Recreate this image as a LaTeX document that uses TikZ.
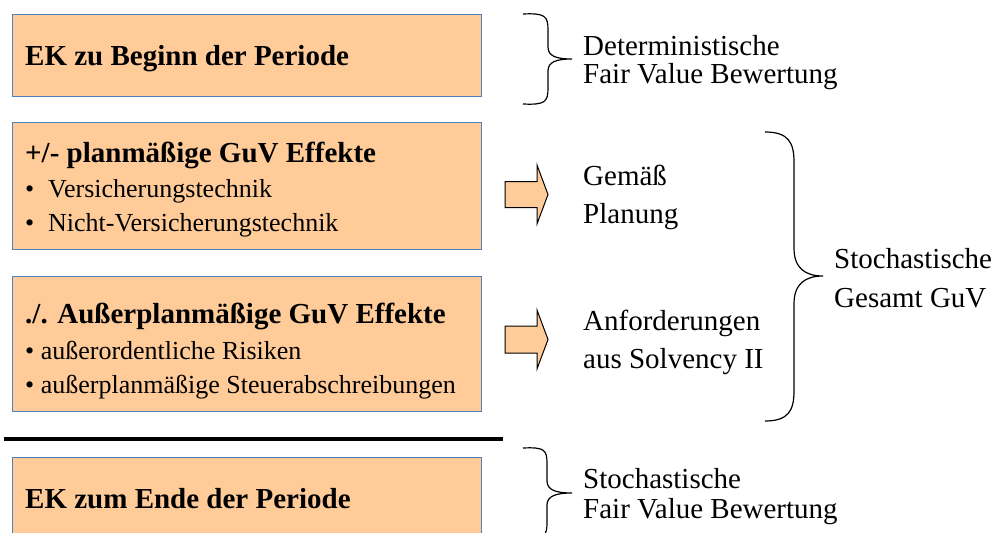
\documentclass[tikz,border=0pt]{standalone}
\usepackage{fontspec}
\setmainfont{Liberation Serif}
\definecolor{peach}{RGB}{255,204,153}
\definecolor{boxblue}{RGB}{79,129,189}
\tikzset{
  ekbox/.style={draw=boxblue, line width=1.3pt, fill=peach, anchor=north west, inner sep=0pt, minimum width=469pt},
  titletxt/.style={anchor=base west, inner sep=0pt, font=\fontsize{29}{32}\selectfont\bfseries},
  itemtxt/.style={anchor=base west, inner sep=0pt, font=\fontsize{26}{30}\selectfont},
  sidetxt/.style={anchor=base west, inner sep=0pt, font=\fontsize{29}{30}\selectfont},
  bracepath/.style={draw=black, line width=1.2pt},
  blockarrow/.style={draw=black, line width=1pt, fill=peach, line join=miter}
}
\begin{document}
\begin{tikzpicture}[x=1pt,y=-1pt]
\useasboundingbox (0,0) rectangle (997,533);
% boxes
\node[ekbox, minimum height=82pt] (b1) at (12,14) {};
\node[ekbox, minimum height=127pt] (b2) at (12,122) {};
\node[ekbox, minimum height=135pt] (b3) at (12,276) {};
\node[ekbox, minimum height=90pt] (b4) at (12,457) {};
% box texts
\node[titletxt] (t1) at (25,65) {EK zu Beginn der Periode};
\node[titletxt] (t2) at (25,162) {+/- planmäßige GuV Effekte};
\node[itemtxt] (i21d) at (25,197) {•};
\node[itemtxt] (i21) at (48,197) {Versicherungstechnik};
\node[itemtxt] (i22d) at (25,231) {•};
\node[itemtxt] (i22) at (48,231) {Nicht-Versicherungstechnik};
\node[titletxt] (t3) at (25,323) {./. Außerplanmäßige GuV Effekte};
\node[itemtxt] (i31) at (25,359) {• außerordentliche Risiken};
\node[itemtxt] (i32) at (25,393) {• außerplanmäßige Steuerabschreibungen};
\node[titletxt] (t4) at (25,508) {EK zum Ende der Periode};
% separating line
\draw[line width=4.5pt] (4,439) -- (503,439);
% block arrows
\draw[blockarrow] (505,181.5) -- (537,181.5) -- (537,165) -- (548,194.5) -- (537,224) -- (537,207.5) -- (505,207.5) -- cycle;
\draw[blockarrow] (505,326) -- (537,326) -- (537,310) -- (548,339.5) -- (537,369) -- (537,353) -- (505,353) -- cycle;
% brace 1
\draw[bracepath] (523,14) .. controls (545,13) and (548,16) .. (548,30)
  -- (548,47) .. controls (548,56) and (556,59) .. (572,59)
  .. controls (556,59) and (548,62) .. (548,71)
  -- (548,88) .. controls (548,102) and (545,105) .. (523,104);
% big brace
\draw[bracepath] (765,132) .. controls (788,132) and (794,142) .. (794,162)
  -- (794,248) .. controls (794,268) and (805,276) .. (823,276)
  .. controls (805,276) and (794,284) .. (794,304)
  -- (794,391) .. controls (794,411) and (788,421) .. (765,421);
% bottom brace
\draw[bracepath] (523,448) .. controls (545,447) and (547,450) .. (547,464)
  -- (547,481) .. controls (547,490) and (556,493) .. (572,493)
  .. controls (556,493) and (547,496) .. (547,505)
  -- (547,522) .. controls (547,536) and (545,539) .. (523,538);
% side texts
\node[sidetxt] (s1a) at (583,55) {Deterministische};
\node[sidetxt] (s1b) at (583,83) {Fair Value Bewertung};
\node[sidetxt] (s2a) at (583,185) {Gemäß};
\node[sidetxt] (s2b) at (583,223) {Planung};
\node[sidetxt] (s3a) at (583,330) {Anforderungen};
\node[sidetxt] (s3b) at (583,368) {aus Solvency II};
\node[sidetxt] (s4a) at (834,268) {Stochastische};
\node[sidetxt] (s4b) at (834,307) {Gesamt GuV};
\node[sidetxt] (s5a) at (583,488) {Stochastische};
\node[sidetxt] (s5b) at (583,518) {Fair Value Bewertung};
\end{tikzpicture}
\end{document}
